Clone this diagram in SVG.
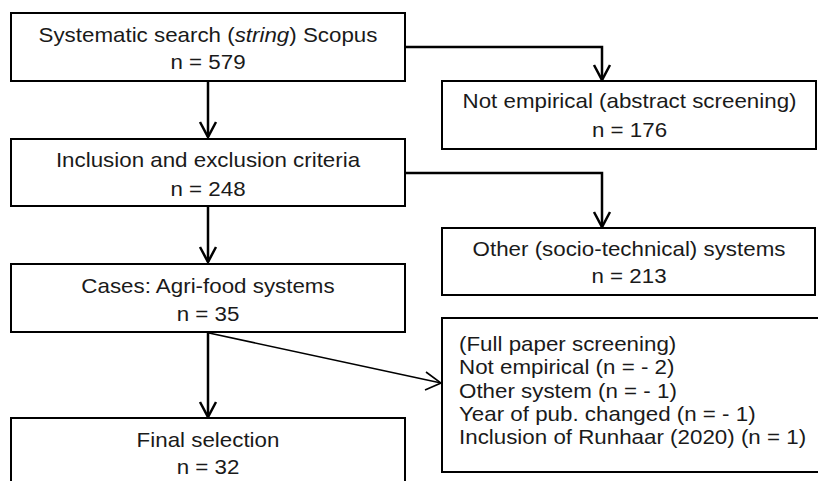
<svg xmlns="http://www.w3.org/2000/svg" width="818" height="481" viewBox="0 0 818 481">
<style>
.box{fill:#fff;stroke:#000;stroke-width:2}
.t{font-family:"Liberation Sans",Arial,sans-serif;font-size:20.5px;fill:#1a1a1a}
.c{text-anchor:middle}
.conn{fill:none;stroke:#000;stroke-width:2.5}
.thin{fill:none;stroke:#000;stroke-width:1.6}
.head{fill:none;stroke:#000;stroke-width:2.5}
</style>
<rect width="818" height="481" fill="#fff"/>
<g id="connectors">
<path class="conn" d="M208,81 V137"/>
<path class="head" d="M200,122 L208,137 L216,122"/>
<path class="conn" d="M405,47 H602 V80"/>
<path class="head" d="M594,65 L602,80 L610,65"/>
<path class="conn" d="M208,207 V262"/>
<path class="head" d="M200,247 L208,262 L216,247"/>
<path class="conn" d="M405,173 H602 V227"/>
<path class="head" d="M594,212 L602,227 L610,212"/>
<path class="conn" d="M208,333 V417"/>
<path class="head" d="M200,402 L208,417 L216,402"/>
<path class="thin" d="M209,333 L441,383"/>
<path class="thin" d="M426,372 L441,383 L425,390"/>
</g>
<g id="n1">
<rect class="box" x="11" y="13" width="394" height="68"/>
<text class="t c" transform="translate(208 41.5) scale(1.09 1)">Systematic search (<tspan font-style="italic">string</tspan>) Scopus</text>
<text class="t c" transform="translate(208 68.5) scale(1.09 1)">n = 579</text>
</g>
<g id="n2">
<rect class="box" x="11" y="139" width="394" height="67"/>
<text class="t c" transform="translate(208 166.7) scale(1.09 1)">Inclusion and exclusion criteria</text>
<text class="t c" transform="translate(208 196) scale(1.09 1)">n = 248</text>
</g>
<g id="n3">
<rect class="box" x="11" y="264" width="394" height="68"/>
<text class="t c" transform="translate(208 292.7) scale(1.09 1)">Cases: Agri-food systems</text>
<text class="t c" transform="translate(208 320.5) scale(1.09 1)">n = 35</text>
</g>
<g id="n4">
<rect class="box" x="11" y="418" width="394" height="80"/>
<text class="t c" transform="translate(208 446.7) scale(1.09 1)">Final selection</text>
<text class="t c" transform="translate(208 474) scale(1.09 1)">n = 32</text>
</g>
<g id="r1">
<rect class="box" x="442" y="81" width="374" height="68"/>
<text class="t c" transform="translate(629.5 108.3) scale(1.09 1)">Not empirical (abstract screening)</text>
<text class="t c" transform="translate(629.5 136.5) scale(1.09 1)">n = 176</text>
</g>
<g id="r2">
<rect class="box" x="442" y="228" width="373" height="67"/>
<text class="t c" transform="translate(629 256) scale(1.09 1)">Other (socio-technical) systems</text>
<text class="t c" transform="translate(629 283.3) scale(1.09 1)">n = 213</text>
</g>
<g id="r3">
<rect class="box" x="442" y="318" width="390" height="154"/>
<text class="t" transform="translate(459 351) scale(1.09 1)">(Full paper screening)</text>
<text class="t" transform="translate(459 374.3) scale(1.09 1)">Not empirical (n = - 2)</text>
<text class="t" transform="translate(459 397.6) scale(1.09 1)">Other system (n = - 1)</text>
<text class="t" transform="translate(459 420.9) scale(1.09 1)">Year of pub. changed (n = - 1)</text>
<text class="t" transform="translate(459 444.2) scale(1.09 1)">Inclusion of Runhaar (2020) (n = 1)</text>
</g>
</svg>
